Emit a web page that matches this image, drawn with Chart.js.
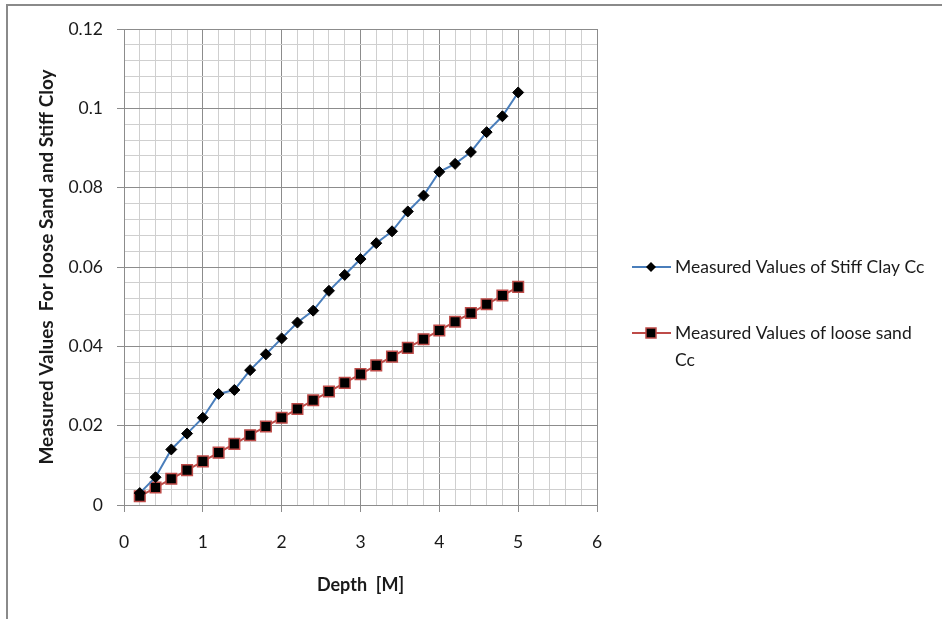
<!DOCTYPE html>
<html>
<head>
<meta charset="utf-8">
<script src="https://cdn.jsdelivr.net/npm/chart.js@4"></script>
<style>
  body { margin: 0; background: #fff; }
  #wrap { position: relative; width: 942px; height: 619px; }
  #frame { position: absolute; left: 6px; top: 4px; right: 0; bottom: 0;
           border-left: 2px solid #8a8a8a; border-top: 2px solid #8a8a8a; pointer-events: none; }
</style>
</head>
<body>
<div id="wrap">
  <canvas id="chart"></canvas>
  <div id="frame"></div>
</div>
<script>
// depth values (M)
let depths = [0.2, 0.4, 0.6, 0.8, 1.0, 1.2, 1.4, 1.6, 1.8, 2.0, 2.2, 2.4, 2.6,
              2.8, 3.0, 3.2, 3.4, 3.6, 3.8, 4.0, 4.2, 4.4, 4.6, 4.8, 5.0];
let stiffClay = [0.003, 0.007, 0.014, 0.018, 0.022, 0.028, 0.029, 0.034, 0.038, 0.042,
                 0.046, 0.049, 0.054, 0.058, 0.062, 0.066, 0.069, 0.074, 0.078, 0.084,
                 0.086, 0.089, 0.094, 0.098, 0.104];
let looseSand = [0.0022, 0.0044, 0.0066, 0.0088, 0.011, 0.0132, 0.0154, 0.0176, 0.0198, 0.022,
                 0.0242, 0.0264, 0.0286, 0.0308, 0.033, 0.0352, 0.0374, 0.0396, 0.0418, 0.044,
                 0.0462, 0.0484, 0.0506, 0.0528, 0.055];
let seriesNames = ['Measured Values of Stiff Clay Cc', 'Measured Values of loose sand Cc'];
let legendLines = [['Measured Values of Stiff Clay Cc'], ['Measured Values of loose sand', 'Cc']];
let xTicks = [0, 1, 2, 3, 4, 5, 6];
let yTicks = [0, 0.02, 0.04, 0.06, 0.08, 0.1, 0.12];

const FONT = 'Lato, "Open Sans", sans-serif';

function pts(ys) {
    return depths.map((x, i) => ({x: x, y: ys[i]}));
}
function isMajor(v, list) {
    return list.some(t => Math.abs(t - v) < 1e-7);
}

// legend drawn by hand so the second label can wrap like the original
const sideLegend = {
    id: 'sideLegend',
    afterDraw(chart) {
        let ctx = chart.ctx;
        let rows = [267, 333];
        ctx.save();
        chart.data.datasets.forEach((ds, i) => {
            let y = rows[i];
            ctx.strokeStyle = ds.borderColor;
            ctx.lineWidth = 2;
            ctx.beginPath();
            ctx.moveTo(632, y);
            ctx.lineTo(671, y);
            ctx.stroke();
            ctx.fillStyle = '#000';
            if (ds.pointStyle === 'rectRot') {
                ctx.beginPath();
                ctx.moveTo(651, y - 5);
                ctx.lineTo(656, y);
                ctx.lineTo(651, y + 5);
                ctx.lineTo(646, y);
                ctx.closePath();
                ctx.fill();
            } else {
                ctx.fillRect(646, y - 5, 10, 10);
                ctx.strokeStyle = ds.pointBorderColor;
                ctx.lineWidth = 1.5;
                ctx.strokeRect(646, y - 5, 10, 10);
            }
            ctx.fillStyle = '#1a1a1a';
            ctx.font = '17.5px ' + FONT;
            ctx.textBaseline = 'middle';
            legendLines[i].forEach((t, j) => {
                ctx.fillText(t, 675, y + j * 27);
            });
        });
        ctx.restore();
    }
};

let ctx = document.querySelector('#chart');
let chart = new Chart(ctx, {
    type: 'scatter',
    data: {
        datasets: [
            {
                label: seriesNames[0],
                data: pts(stiffClay),
                showLine: true,
                borderColor: '#4a7ebb',
                borderWidth: 2,
                pointStyle: 'rectRot',
                pointRadius: 5.5,
                pointBackgroundColor: '#000',
                pointBorderColor: '#000',
                pointBorderWidth: 1
            },
            {
                label: seriesNames[1],
                data: pts(looseSand),
                showLine: true,
                borderColor: '#be4b48',
                borderWidth: 2,
                pointStyle: 'rect',
                pointRadius: 7.5,
                pointBackgroundColor: '#000',
                pointBorderColor: '#be4b48',
                pointBorderWidth: 1.5
            }
        ]
    },
    options: {
        responsive: true,
        maintainAspectRatio: false,
        animation: false,
        layout: { padding: { left: 0, top: 29, right: 345, bottom: 0 } },
        plugins: {
            legend: { display: false },
            tooltip: { enabled: false }
        },
        scales: {
            x: {
                type: 'linear',
                min: 0,
                max: 6,
                afterFit: s => { s.height = 114; },
                ticks: {
                    stepSize: 0.2,
                    autoSkip: false,
                    maxRotation: 0,
                    padding: 20,
                    color: '#1a1a1a',
                    font: { family: FONT, size: 17.5 },
                    callback: v => isMajor(v, xTicks) ? String(Math.round(v)) : ''
                },
                grid: {
                    color: c => isMajor(c.tick.value, xTicks) ? '#8c8c8c' : '#cfcfcf',
                    tickColor: c => isMajor(c.tick.value, xTicks) ? '#8c8c8c' : 'rgba(0,0,0,0)',
                    tickLength: 7,
                    lineWidth: 1
                },
                border: { color: '#8c8c8c', width: 1 },
                title: {
                    display: true,
                    text: 'Depth  [M]',
                    color: '#1a1a1a',
                    font: { family: FONT, size: 18, weight: 'bold' },
                    padding: { top: 0, bottom: 23 }
                }
            },
            y: {
                min: 0,
                max: 0.12,
                afterFit: s => { s.width = 124; },
                ticks: {
                    stepSize: 0.004,
                    autoSkip: false,
                    padding: 14,
                    color: '#1a1a1a',
                    font: { family: FONT, size: 17.5 },
                    callback: v => isMajor(v, yTicks) ? String(parseFloat(v.toFixed(2))) : ''
                },
                grid: {
                    color: c => isMajor(c.tick.value, yTicks) ? '#8c8c8c' : '#cfcfcf',
                    tickColor: c => isMajor(c.tick.value, yTicks) ? '#8c8c8c' : 'rgba(0,0,0,0)',
                    tickLength: 7,
                    lineWidth: 1
                },
                border: { color: '#8c8c8c', width: 1 },
                title: {
                    display: true,
                    text: 'Measured Values  For loose Sand and Stiff Cloy',
                    color: '#1a1a1a',
                    font: { family: FONT, size: 19, weight: 'bold' },
                    padding: { top: 35, bottom: 0 }
                }
            }
        }
    },
    plugins: [sideLegend]
});
</script>
</body>
</html>
